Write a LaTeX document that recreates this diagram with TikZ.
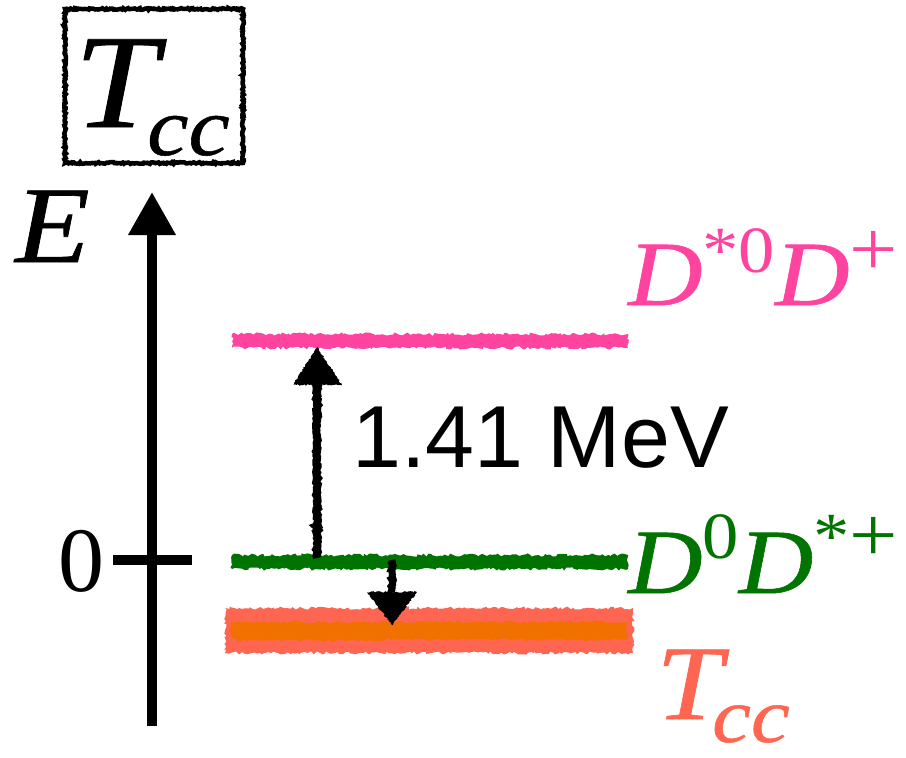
\documentclass[tikz,border=0pt]{standalone}
\usepackage{graphicx}
\usepackage{fontspec}
\setmainfont{Liberation Serif}[ItalicFeatures={FakeBold=0.6}]
\newfontfamily\sansf{Liberation Sans}
\usetikzlibrary{arrows.meta,decorations.pathmorphing,calc}
\definecolor{lvpink}{RGB}{255,68,160}
\definecolor{lvgreen}{RGB}{0,115,0}
\definecolor{lvsalmon}{RGB}{255,102,82}
\definecolor{lvorange}{RGB}{240,112,0}
\newcommand\mysup[3]{\raisebox{#1}{\scalebox{1.1}[1]{\fontsize{#2}{#2}\selectfont\upshape #3}}}
\newcommand\myit[2]{\scalebox{1.12}[1]{\fontsize{#1}{#1}\selectfont\itshape #2}}
\begin{document}
\begin{tikzpicture}[x=1pt,y=-1pt,
  rough/.style={decorate,decoration={random steps,segment length=2.5pt,amplitude=1.6pt}},
  roughfine/.style={decorate,decoration={random steps,segment length=1.5pt,amplitude=0.9pt}},
  lbl/.style={inner sep=0pt,anchor=base west}]
\useasboundingbox (0,0) rectangle (906,758);
% title box
\coordinate (boxNW) at (65,9);
\coordinate (boxSE) at (243,163);
\draw[line width=4.5pt,roughfine] (boxNW) rectangle (boxSE);
\node[lbl] (boxT) at (74,127) {\myit{134}{T}};
\node[lbl] (boxcc) at (147,155) {\myit{83}{cc}};
% axis
\coordinate (axbot) at (152,726);
\coordinate (axtop) at (152,192);
\draw[line width=10pt,-{Triangle[width=45pt,length=43pt]}] (axbot) -- (axtop);
\node[lbl] (Elab) at (15,262) {\myit{109}{E}};
\coordinate (tkL) at (113,560);
\coordinate (tkR) at (192,560);
\draw[line width=10pt] (tkL) -- (tkR);
\node[lbl] (zero) at (58,591) {\fontsize{92}{92}\selectfont 0};
% levels
\coordinate (pinkL) at (232,341);
\coordinate (pinkR) at (628,341);
\fill[lvpink,rough] ($(pinkL)+(0,-7)$) rectangle ($(pinkR)+(0,7)$);
\coordinate (greenL) at (232,562);
\coordinate (greenR) at (628,562);
\fill[lvgreen,rough] ($(greenL)+(0,-7)$) rectangle ($(greenR)+(0,7)$);
\coordinate (tccL) at (225,630);
\coordinate (tccR) at (633,630);
\fill[lvsalmon,rough] ($(tccL)+(0,-22)$) rectangle ($(tccR)+(0,23)$);
\fill[lvorange,rough] ($(tccL)+(6,-8)$) rectangle ($(tccR)+(-6,10)$);
% up arrow 1.41 MeV
\coordinate (upbot) at (317,558);
\coordinate (upbase) at (317,383);
\coordinate (uptip) at (317,347);
\draw[line width=8pt,roughfine] (upbot) -- (upbase);
\fill[roughfine] ($(upbase)+(-24,2)$) -- (uptip) -- ($(upbase)+(25,2)$) -- cycle;
\node[lbl] (mev) at (352,467) {\sansf\fontsize{88}{88}\selectfont 1.41 MeV};
% down arrow
\coordinate (dntop) at (392,560);
\coordinate (dnbase) at (392,593);
\coordinate (dntip) at (392,625);
\draw[line width=7pt,roughfine] (dntop) -- (dnbase);
\fill[roughfine] ($(dnbase)+(-25,-1)$) -- ($(dnbase)+(25,-1)$) -- (dntip) -- cycle;
% labels
\node[lbl,text=lvpink] (pinklab) at (628,305)
  {\myit{92}{D}\mysup{33pt}{66}{*0}\myit{92}{D}\mysup{30pt}{78}{+}};
\node[lbl,text=lvgreen] (greenlab) at (628,593)
  {\myit{92}{D}\mysup{35pt}{66}{0}\myit{92}{D}\mysup{35pt}{66}{*}\mysup{32pt}{78}{+}};
\node[lbl,text=lvsalmon] (tccT) at (656,719) {\myit{106}{T}};
\node[lbl,text=lvsalmon] (tcccc) at (712,742) {\myit{78}{cc}};
\end{tikzpicture}
\end{document}
